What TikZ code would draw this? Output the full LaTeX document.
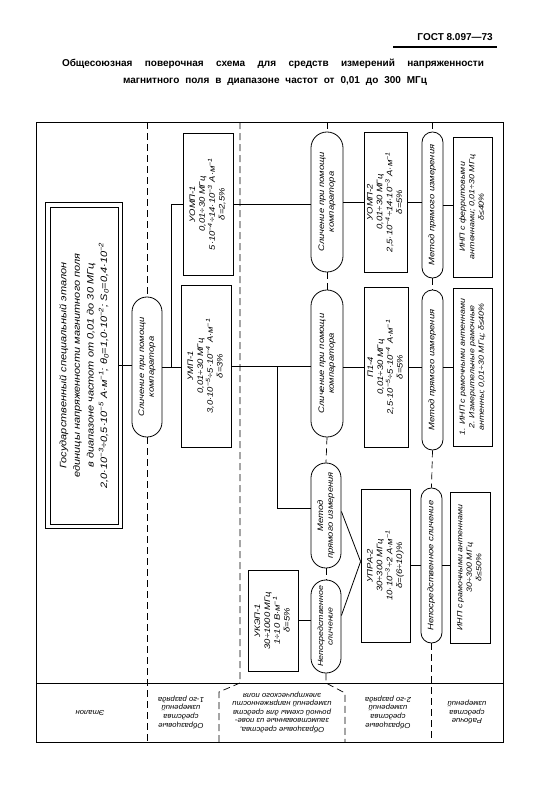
\documentclass[tikz,border=0pt]{standalone}
\usepackage{fontspec}
\setmainfont{Liberation Sans}
\newfontfamily\drawfont[FakeStretch=1.18]{Liberation Sans}
\newfontfamily\labfont[FakeStretch=1.06]{Liberation Sans}
\newfontfamily\headfont{Liberation Sans}
\usepackage{graphicx}
\usetikzlibrary{calc}

\newcommand{\vtxt}[1]{\rotatebox{90}{\begin{tabular}{@{}c@{}}#1\end{tabular}}}
\newcommand{\utxt}[1]{\rotatebox{180}{\begin{tabular}{@{}c@{}}#1\end{tabular}}}
\newcommand{\ee}[1]{\textsuperscript{#1}}

\begin{document}
\begin{tikzpicture}[
    x=1pt, y=-1pt,
    every node/.style={font=\drawfont\itshape\fontsize{8}{9.8}\selectfont, inner sep=0pt},
    unit/.style={draw, line width=0.8pt},
    pill/.style={draw, line width=0.8pt, rounded corners=#1},
    link/.style={line width=0.8pt},
    bound/.style={line width=0.7pt, dash pattern=on 7pt off 4pt},
    smalltext/.style={font=\drawfont\itshape\fontsize{7.5}{9.4}\selectfont},
    rowlabel/.style={font=\labfont\itshape\fontsize{7.3}{8.6}\selectfont},
    headtext/.style={font=\headfont\bfseries\fontsize{10}{12}\selectfont},
]
\useasboundingbox (0,0) rectangle (547,796);

% Header
\node[headtext, anchor=east] (gost) at (493,37) {ГОСТ 8.097—73};
\draw[line width=1.6pt] (393,47) -- (497,47);
\node[headtext] (title1) at (273,64)
    {\makebox[422pt][s]{Общесоюзная поверочная схема для средств измерений напряженности}};
\node[headtext] (title2) at (275,81)
    {\makebox[304pt][s]{магнитного поля в диапазоне частот от 0,01 до 300 МГц}};

% Frame
\coordinate (ftop) at (0,122);
\coordinate (fbot) at (0,742);
\coordinate (lrow) at (0,683);
\draw[line width=0.9pt] (36,122) rectangle (503,742);
\draw[line width=0.9pt] (36,683) -- (503,683);

% Standard (double border)
\node[unit, line width=0.7pt, minimum width=68pt, minimum height=317pt,
      font=\drawfont\itshape\fontsize{9.3}{13.6}\selectfont] (etalon) at (84,365.5)
    {\vtxt{Государственный специальный эталон\\
           единицы напряженности магнитного поля\\
           в диапазоне частот от 0,01 до 30 МГц\\
           2,0·10\ee{−3}÷0,5·10\ee{−5} А·м\ee{−1}; θ\textsubscript{0}=1,0·10\ee{−2}; S\textsubscript{0}=0,4·10\ee{−2}}};
\draw[line width=0.7pt] ([shift={(-4pt,-4pt)}]etalon.south west)
    rectangle ([shift={(4pt,4pt)}]etalon.north east);

% Comparison methods
\node[pill=14.9pt, minimum width=30pt, minimum height=140pt] (cmp1) at (147,367)
    {\vtxt{Сличение при помощи\\ компаратора}};
\node[pill=15.9pt, minimum width=32pt, minimum height=140pt] (cmp2) at (327,202)
    {\vtxt{Сличение при помощи\\ компаратора}};
\node[pill=15.9pt, minimum width=32pt, minimum height=147pt] (cmp3) at (327,363.5)
    {\vtxt{Сличение при помощи\\ компаратора}};
\node[pill=14.9pt, minimum width=30pt, minimum height=105pt] (dir1) at (326,515.5)
    {\vtxt{Метод\\ прямого измерения}};
\node[pill=14.9pt, smalltext, minimum width=30pt, minimum height=93pt] (nsl1) at (326,626.5)
    {\vtxt{Непосредственное\\ сличение}};
\node[pill=10.4pt, minimum width=21pt, minimum height=146pt] (dir2) at (432.5,205)
    {\vtxt{Метод прямого измерения}};
\node[pill=10.4pt, minimum width=21pt, minimum height=160pt] (dir3) at (432.5,370)
    {\vtxt{Метод прямого измерения}};
\node[pill=10.4pt, minimum width=21pt, minimum height=155pt] (nsl2) at (431.5,565.5)
    {\vtxt{Непосредственное сличение}};

% Reference instruments
\node[unit, minimum width=50pt, minimum height=142pt] (uomp1) at (208,204)
    {\vtxt{УОМП-1\\ 0,01÷30 МГц\\ 5·10\ee{−4}÷14·10\ee{−3} А·м\ee{−1}\\ δ=2,5\%}};
\node[unit, minimum width=50pt, minimum height=162pt] (ump1) at (206,366)
    {\vtxt{УМП-1\\ 0,01÷30 МГц\\ 3,0·10\ee{−5}÷5·10\ee{−4} А·м\ee{−1}\\ δ=3\%}};
\node[unit, minimum width=50pt, minimum height=101pt] (ukep1) at (273,620.5)
    {\vtxt{УКЭП-1\\ 30÷1000 МГц\\ 1÷10 В·м\ee{−1}\\ δ=5\%}};
\node[unit, minimum width=43pt, minimum height=140pt] (uomp2) at (385.5,202)
    {\vtxt{УОМП-2\\ 0,01÷30 МГц\\ 2,5·10\ee{−4}÷14·10\ee{−3} А·м\ee{−1}\\ δ=5\%}};
\node[unit, minimum width=44pt, minimum height=160pt] (p14) at (386,367)
    {\vtxt{П1-4\\ 0,01÷30 МГц\\ 2,5·10\ee{−5}÷5·10\ee{−4} А·м\ee{−1}\\ δ=5\%}};
\node[unit, minimum width=49pt, minimum height=153pt] (upra2) at (385.5,565.5)
    {\vtxt{УПРА-2\\ 30÷300 МГц\\ 10·10\ee{−3}÷2 А·м\ee{−1}\\ δ=(6÷10)\%}};

% Working instruments
\node[unit, smalltext, minimum width=39pt, minimum height=140pt] (inp1) at (472.5,207)
    {\vtxt{ИНП с ферритовыми\\ антеннами; 0,01÷30 МГц\\ δ≤40\%}};
\node[unit, smalltext, minimum width=39pt, minimum height=158pt] (inp2) at (472.5,367)
    {\vtxt{1. ИНП с рамочными антеннами\\ 2. Измерительные рамочные\\ антенны; 0,01÷30 МГц; δ≤40\%}};
\node[unit, smalltext, minimum width=40pt, minimum height=151pt] (inp3) at (470,567.5)
    {\vtxt{ИНП с рамочными антеннами\\ 30÷300 МГц\\ δ≤50\%}};

% Links
\draw[link] (etalon.east) -- (etalon.east -| cmp1.west);
\draw[link] (cmp1.east) -- (cmp1.east -| ump1.west);
\coordinate (split1) at ($(cmp1.east)!0.5!(ump1.west)$);
\draw[link] (split1) |- (uomp1.west);
\draw[link] (uomp1.east) -- (uomp1.east -| cmp2.west);
\draw[link] (ump1.east) -- (ump1.east -| cmp3.west);
\coordinate (split2) at ($(ump1.east)+(46,0)$);
\draw[link] (split2) |- ([yshift=7pt]dir1.west);
\draw[link] ([yshift=4pt]dir1.east) -- ([yshift=4pt]upra2.west);
\draw[link] ([yshift=11pt]nsl1.east) -- ([yshift=4pt]upra2.west);
\draw[link] (ukep1.east) -- (ukep1.east -| nsl1.west);
\draw[link] (cmp2.east) -- (cmp2.east -| uomp2.west);
\draw[link] (uomp2.east) -- (uomp2.east -| dir2.west);
\draw[link] (dir2.east) -- (dir2.east -| inp1.west);
\draw[link] (p14.west -| cmp3.east) -- (p14.west);
\draw[link] (p14.east) -- (p14.east -| dir3.west);
\draw[link] (inp2.west -| dir3.east) -- (inp2.west);
\draw[link] (upra2.east) -- (upra2.east -| nsl2.west);
\draw[link] (nsl2.east) -- (nsl2.east -| inp3.west);

% Column boundaries
\draw[bound] (cmp1.north |- ftop) -- (cmp1.north);
\draw[bound] (cmp1.south) -- (cmp1.south |- fbot);
\draw[bound] (240,122) -- (240,683) -- (219,692) -- (219,742);
\draw[bound] (cmp2.north |- ftop) -- (cmp2.north);
\draw[bound] (cmp2.south) -- (cmp3.north);
\draw[bound] (cmp3.south) -- (dir1.north);
\draw[bound] (dir1.south) -- (nsl1.north);
\draw[bound] (nsl1.south) -- (nsl1.south |- lrow) -- (345,693) -- (345,742);
\draw[bound] (dir2.north |- ftop) -- (dir2.north);
\draw[bound] (dir2.south) -- (dir3.north);
\draw[bound] (dir3.south) -- (nsl2.north);
\draw[bound] (nsl2.south) -- (nsl2.south |- fbot);

% Row labels
\node[rowlabel] (lab1) at (90,712) {\utxt{Эталон}};
\node[rowlabel] (lab2) at (181,712) {\utxt{Образцовые\\ средства\\ измерений\\ 1-го разряда}};
\node[rowlabel] (lab3) at (282,712) {\utxt{Образцовые средства,\\ заимствованные из пове-\\ рочной схемы для средств\\ измерений напряженности\\ электрического поля}};
\node[rowlabel] (lab4) at (388,712) {\utxt{Образцовые\\ средства\\ измерений\\ 2-го разряда}};
\node[rowlabel] (lab5) at (467,712) {\utxt{Рабочие\\ средства\\ измерений}};

\end{tikzpicture}
\end{document}
